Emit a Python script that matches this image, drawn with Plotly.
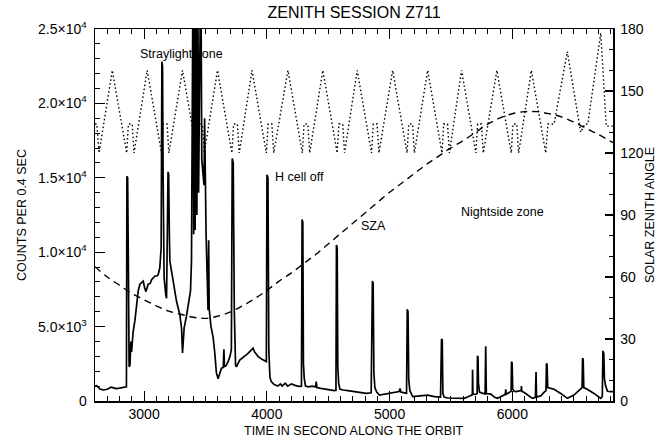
import plotly.graph_objects as go

# ---------------- data ----------------
# Count rate (counts per 0.4 s) vs time along the orbit (s); values above 25000 run off the top
count_t = [2600, 2614, 2640, 2668, 2700, 2730, 2745, 2770, 2800, 2840, 2856, 2860, 2866, 2872, 2878,
           2885, 2892, 2898, 2910, 2925, 2952, 2966, 2980, 2993, 3005, 3015, 3033, 3050, 3061, 3075,
           3088, 3105, 3115, 3128, 3139, 3145, 3150, 3155, 3163, 3177, 3183, 3195, 3200, 3206, 3210,
           3237, 3264, 3291, 3305, 3313, 3326, 3345, 3367, 3378, 3386, 3393, 3399, 3404, 3410, 3416,
           3422, 3430, 3437, 3444, 3452, 3462, 3470, 3480, 3488, 3493, 3498, 3505, 3515, 3521, 3526,
           3530, 3545, 3562, 3575, 3589, 3603, 3615, 3630, 3645, 3650, 3655, 3670, 3684, 3700, 3711,
           3718, 3726, 3735, 3745, 3752, 3779, 3810, 3840, 3874, 3887, 3900, 3928, 3960, 3996, 4001,
           4009, 4016, 4025, 4036, 4060, 4090, 4110, 4125, 4150, 4170, 4200, 4230, 4260, 4282, 4287,
           4293, 4298, 4305, 4315, 4340, 4370, 4398, 4402, 4408, 4440, 4480, 4511, 4550, 4563, 4567,
           4573, 4578, 4585, 4595, 4619, 4660, 4727, 4780, 4809, 4850, 4860, 4866, 4872, 4880, 4895,
           4917, 4960, 4998, 5040, 5078, 5085, 5092, 5120, 5138, 5144, 5150, 5156, 5165, 5188, 5256,
           5310, 5364, 5415, 5423, 5429, 5434, 5445, 5480, 5540, 5608, 5640, 5663, 5674, 5676, 5679,
           5705, 5713, 5716, 5720, 5724, 5732, 5760, 5778, 5783, 5788, 5825, 5855, 5879, 5910, 5933,
           5944, 5946, 5950, 5980, 5990, 5993, 5998, 6003, 6015, 6028, 6060, 6072, 6074, 6077, 6100,
           6130, 6163, 6188, 6193, 6197, 6232, 6260, 6274, 6278, 6283, 6288, 6299, 6340, 6394, 6448,
           6502, 6540, 6557, 6568, 6572, 6577, 6582, 6610, 6665, 6720, 6733, 6738, 6741, 6745, 6750,
           6760, 6775, 6800, 6820]
count_v = [1000, 1030, 800, 740, 790, 930, 900, 830, 860, 900, 950, 15100, 15000, 9000, 2300,
           2400, 4000, 3300, 4600, 5400, 7400, 7850, 7950, 8050, 7600, 7350, 7850, 7900, 8150, 8300,
           8400, 8400, 8500, 8950, 10300, 22800, 22500, 15000, 8300, 7100, 6900, 15400, 15200, 11000, 9400,
           8050, 6700, 5800, 4900, 3230, 4900, 5700, 6700, 7400, 9400, 30000, 30000, 11200, 30000, 11500,
           30000, 12500, 30000, 14000, 30000, 30000, 16200, 15200, 14500, 19000, 12500, 11200, 8000, 6100, 10800,
           6200, 5000, 4300, 3300, 1900, 1500, 1800, 2200, 2250, 3470, 2300, 2400, 2650, 3000, 3450,
           16300, 16000, 6000, 2400, 2300, 2750, 2950, 3150, 3430, 3550, 3300, 3000, 2800, 2650, 15200,
           15000, 3500, 1600, 1300, 1100, 1000, 1150, 1000, 1200, 1000, 1150, 1050, 980, 1000, 12200,
           12000, 2500, 1500, 1000, 950, 1000, 950, 1300, 900, 850, 780, 740, 700, 720, 10480,
           10300, 2300, 1200, 800, 740, 700, 630, 560, 510, 550, 8060, 7900, 1900, 900, 600,
           400, 450, 510, 560, 630, 850, 600, 550, 520, 6160, 6000, 1400, 700, 290, 350,
           400, 300, 260, 4170, 4100, 500, 250, 200, 190, 180, 280, 400, 420, 2100, 450,
           460, 500, 3040, 2950, 1200, 600, 510, 480, 3680, 500, 460, 250, 180, 300, 400,
           500, 790, 450, 600, 650, 2640, 2550, 800, 650, 630, 650, 700, 1000, 650, 550,
           350, 180, 250, 1950, 260, 350, 600, 700, 2530, 2450, 900, 880, 790, 510, 180,
           400, 700, 880, 900, 2870, 2800, 900, 790, 510, 180, 300, 3380, 3200, 3250, 1500,
           1000, 650, 630, 630]

# Solar zenith angle (deg), dashed curve
sza_t = [2600, 2700, 2800, 2900, 3000, 3100, 3200, 3300, 3400, 3500, 3600, 3700, 3800, 3900, 4000,
         4100, 4200, 4300, 4400, 4500, 4600, 4700, 4800, 4900, 5000, 5100, 5200, 5300, 5400, 5500,
         5600, 5700, 5800, 5900, 6000, 6100, 6200, 6300, 6400, 6500, 6600, 6700, 6820]
sza_v = [65, 60, 56, 52, 49, 46, 43.5, 42, 40.5, 40, 41, 43, 46, 49.5, 53.5,
         58, 62, 66.5, 71, 76, 81, 86, 91, 96, 101, 105.5, 110, 114.5, 118.5, 122.5,
         126, 130, 134, 137, 139, 140, 140, 139, 137.5, 135, 132, 129, 125]

# Dotted zig-zag (deg, right axis)
scan_t = [2600, 2615, 2633, 2741, 2858, 2872, 2903, 2918, 3025, 3142, 3156, 3187, 3202, 3313,
          3430, 3444, 3475, 3490, 3598, 3715, 3729, 3760, 3775, 3879, 3996, 4010, 4041, 4056, 4172,
          4289, 4303, 4334, 4349, 4456, 4573, 4587, 4618, 4633, 4736, 4853, 4867, 4898, 4913, 5025,
          5142, 5156, 5187, 5202, 5310, 5427, 5441, 5472, 5487, 5586, 5703, 5717, 5748, 5763, 5874,
          5991, 6005, 6036, 6051, 6155, 6272, 6290, 6340, 6448, 6557, 6590, 6615, 6720, 6765, 6820]
scan_v = [134, 134, 120, 160, 120, 134, 134, 120, 160, 120, 134, 134, 120, 160,
          120, 134, 134, 120, 160, 120, 134, 134, 120, 160, 120, 134, 134, 120, 160,
          120, 134, 134, 120, 160, 120, 134, 134, 120, 160, 120, 134, 134, 120, 160,
          120, 134, 134, 120, 160, 120, 134, 134, 120, 160, 120, 134, 134, 120, 160,
          120, 134, 134, 120, 160, 120, 134, 134, 169, 130, 134, 134, 178, 133, 133]

x_tickvals = [3000, 4000, 5000, 6000]
left_tickvals = [0, 5000, 10000, 15000, 20000, 25000]
left_ticktext = ["0", "5.0×10<sup>3</sup>", "1.0×10<sup>4</sup>", "1.5×10<sup>4</sup>",
                 "2.0×10<sup>4</sup>", "2.5×10<sup>4</sup>"]
right_tickvals = [0, 30, 60, 90, 120, 150, 180]

# ---------------- figure ----------------
FONT = "Liberation Sans, Arial, Helvetica, sans-serif"
fig = go.Figure()
fig.add_trace(go.Scatter(x=count_t, y=count_v, mode="lines", yaxis="y",
                         line=dict(color="black", width=1.7), hoverinfo="skip"))
fig.add_trace(go.Scatter(x=sza_t, y=sza_v, mode="lines", yaxis="y2", line_shape="spline",
                         line=dict(color="black", width=1.4, dash="7px,5px"), hoverinfo="skip"))
fig.add_trace(go.Scatter(x=scan_t, y=scan_v, mode="lines", yaxis="y2",
                         line=dict(color="black", width=1.4, dash="1.5px,2.5px"), hoverinfo="skip"))

fig.update_layout(
    width=670, height=443,
    margin=dict(l=95, r=57, t=29, b=42),
    paper_bgcolor="white", plot_bgcolor="white",
    showlegend=False,
    font=dict(family=FONT, color="black", size=14),
    title=dict(text="ZENITH SESSION Z711", x=0.5, xref="paper", xanchor="center",
               y=1 - 12 / 443, yanchor="middle", font=dict(size=16, family=FONT, color="black")),
    xaxis=dict(range=[2600, 6820], tickvals=x_tickvals, ticks="inside", ticklen=10, tickwidth=1.2,
               tickcolor="black", showline=True, linecolor="black", linewidth=1.5, mirror="ticks",
               showgrid=False, zeroline=False, tickfont=dict(size=14),
               minor=dict(ticks="inside", ticklen=5, dtick=100, tick0=0, tickwidth=1,
                          tickcolor="black", showgrid=False)),
    yaxis=dict(range=[0, 25000], tickvals=left_tickvals, ticktext=left_ticktext, ticks="inside",
               ticklen=10, tickwidth=1.2, tickcolor="black", showline=True, linecolor="black",
               linewidth=1.5, showgrid=False, zeroline=False, tickfont=dict(size=14),
               ticklabelstandoff=4,
               minor=dict(ticks="inside", ticklen=5, dtick=1000, tick0=0, tickwidth=1,
                          tickcolor="black", showgrid=False)),
    yaxis2=dict(range=[0, 180], tickvals=right_tickvals, overlaying="y", side="right",
                ticks="inside", ticklen=8, tickwidth=1.2, tickcolor="black", showline=True,
                linecolor="black", linewidth=1.5, showgrid=False, zeroline=False,
                tickfont=dict(size=14), ticklabelstandoff=3,
                minor=dict(ticks="inside", ticklen=4, dtick=10, tick0=0, tickwidth=1,
                           tickcolor="black", showgrid=False)),
)

# axis titles
fig.add_annotation(text="COUNTS PER 0.4 SEC", xref="paper", yref="paper", x=(22 - 95) / 518, y=0.5,
                   textangle=-90, showarrow=False, font=dict(size=12.5), xanchor="center", yanchor="middle")
fig.add_annotation(text="SOLAR ZENITH ANGLE", xref="paper", yref="paper", x=(650 - 95) / 518, y=0.5,
                   textangle=-90, showarrow=False, font=dict(size=12.5), xanchor="center", yanchor="middle")
fig.add_annotation(text="TIME IN SECOND ALONG THE ORBIT", xref="paper", yref="paper", x=0.5,
                   y=(401 - 431) / 372, showarrow=False, font=dict(size=12.5),
                   xanchor="center", yanchor="middle")

# in-plot labels
fig.add_annotation(text="Straylight zone", x=2950, y=23300, xref="x", yref="y", showarrow=False,
                   xanchor="left", yanchor="middle", font=dict(size=12.5))
fig.add_annotation(text="H cell off", x=4047, y=15050, xref="x", yref="y", showarrow=False,
                   xanchor="left", yanchor="middle", font=dict(size=12.5))
fig.add_annotation(text="SZA", x=4754, y=11760, xref="x", yref="y", showarrow=False,
                   xanchor="left", yanchor="middle", font=dict(size=12.5))
fig.add_annotation(text="Nightside zone", x=5567, y=12700, xref="x", yref="y", showarrow=False,
                   xanchor="left", yanchor="middle", font=dict(size=12.5))

fig.write_html("out.html", config={"displayModeBar": False, "staticPlot": True},
               post_script="document.body.style.margin='0px';document.body.style.overflow='hidden';")
